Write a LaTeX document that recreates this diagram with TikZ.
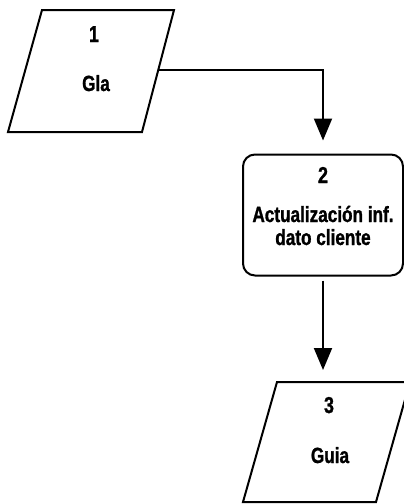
\documentclass[tikz,border=0pt]{standalone}
\usepackage{fontspec}
\newfontfamily\lab{Liberation Sans}[FakeStretch=0.78,BoldFeatures={FakeBold=1.2}]
\usetikzlibrary{arrows.meta}
\begin{document}
\begin{tikzpicture}[x=1pt,y=-1pt,
  outline/.style={draw=black,line width=2pt,line join=miter},
  procbox/.style={draw=black,line width=2pt,rectangle,rounded corners=12pt,
    minimum width=160pt,minimum height=121pt,inner sep=0pt},
  txt/.style={anchor=base,inner sep=0pt,font=\lab\bfseries\fontsize{22}{25}\selectfont},
  num/.style={anchor=base,inner sep=0pt,font=\lab\bfseries\fontsize{23}{25}\selectfont},
  flow/.style={draw=black,line width=2pt,-{Triangle[width=18pt,length=22pt]}}]
\useasboundingbox (0,0) rectangle (404,504);
\clip (0,0) rectangle (404,504);

% input document 1
\draw[outline] (42,10) -- (174,10) -- (142,132) -- (8,132) -- cycle;
\coordinate (p1out) at (158,70);
\node[num] (n1) at (94,42) {1};
\node[txt] (t1) at (96,91) {Gla};

% process step 2
\node[procbox] (b2) at (323,215) {};
\node[num] (n2) at (323,183) {2};
\node[txt] (t2a) at (323,222) {Actualización inf.};
\node[txt] (t2b) at (323,245) {dato cliente};

% output document 3
\draw[outline] (277,382) -- (410,382) -- (376,502) -- (243,502) -- cycle;
\coordinate (p3top) at (323,382);
\node[num] (n3) at (329,413) {3};
\node[txt] (t3) at (330,463) {Guia};

% connectors
\draw[flow,shorten >=13pt] (p1out) -| (b2.north);
\draw[flow,shorten <=4pt,shorten >=12pt] (b2.south) -- (p3top);
\end{tikzpicture}
\end{document}
